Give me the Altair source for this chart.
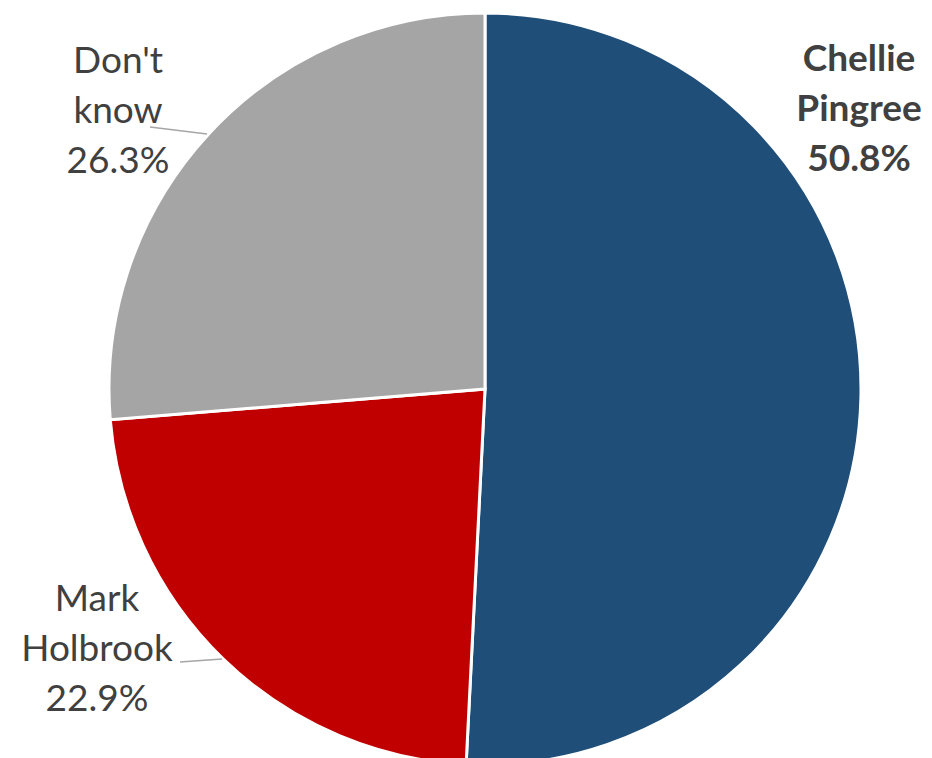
import altair as alt
import pandas as pd

candidates = ["Chellie Pingree", "Mark Holbrook", "Don't know"]
shares = [50.8, 22.9, 26.3]
colors = ["#1F4E79", "#C00000", "#A5A5A5"]

df = pd.DataFrame({"candidate": candidates, "share": shares, "order": [0, 1, 2]})

W, H = 916, 750
cx, cy, R = 477, 381, 376

pie = alt.Chart(df).mark_arc(stroke="white", strokeWidth=3, radius=R).encode(
    theta=alt.Theta("share:Q", stack=True),
    order=alt.Order("order:Q"),
    color=alt.Color("candidate:N", scale=alt.Scale(domain=candidates, range=colors), legend=None),
    x=alt.value(cx),
    y=alt.value(cy),
)

def label(lines, x, y, bold=False):
    return alt.Chart(pd.DataFrame({"t": [lines]})).mark_text(
        font="Lato", fontSize=37, fontWeight="bold" if bold else "normal",
        color="#404040", align="center", baseline="middle", lineHeight=50,
    ).encode(text="t:N", x=alt.value(x), y=alt.value(y))

lab_a = label(["Chellie", "Pingree", f"{shares[0]}%"], 851, 52, bold=True)
lab_b = label(["Mark", "Holbrook", f"{shares[1]}%"], 89, 592)
lab_c = label(["Don't", "know", f"{shares[2]}%"], 110, 54)

def leader(x1, y1, x2, y2):
    return alt.Chart(pd.DataFrame({"a": [0]})).mark_rule(color="#A6A6A6", strokeWidth=1.5).encode(
        x=alt.value(x1), y=alt.value(y1), x2=alt.value(x2), y2=alt.value(y2))

line_c = leader(142, 119, 199, 126)
line_b = leader(172, 654, 214, 651)

chart = alt.layer(pie, line_c, line_b, lab_a, lab_b, lab_c).properties(
    width=W, height=H, autosize=alt.AutoSizeParams(type="none"), padding=0
).configure_view(stroke=None)

chart.save("out.html", embed_options={"renderer": "svg", "actions": False})
